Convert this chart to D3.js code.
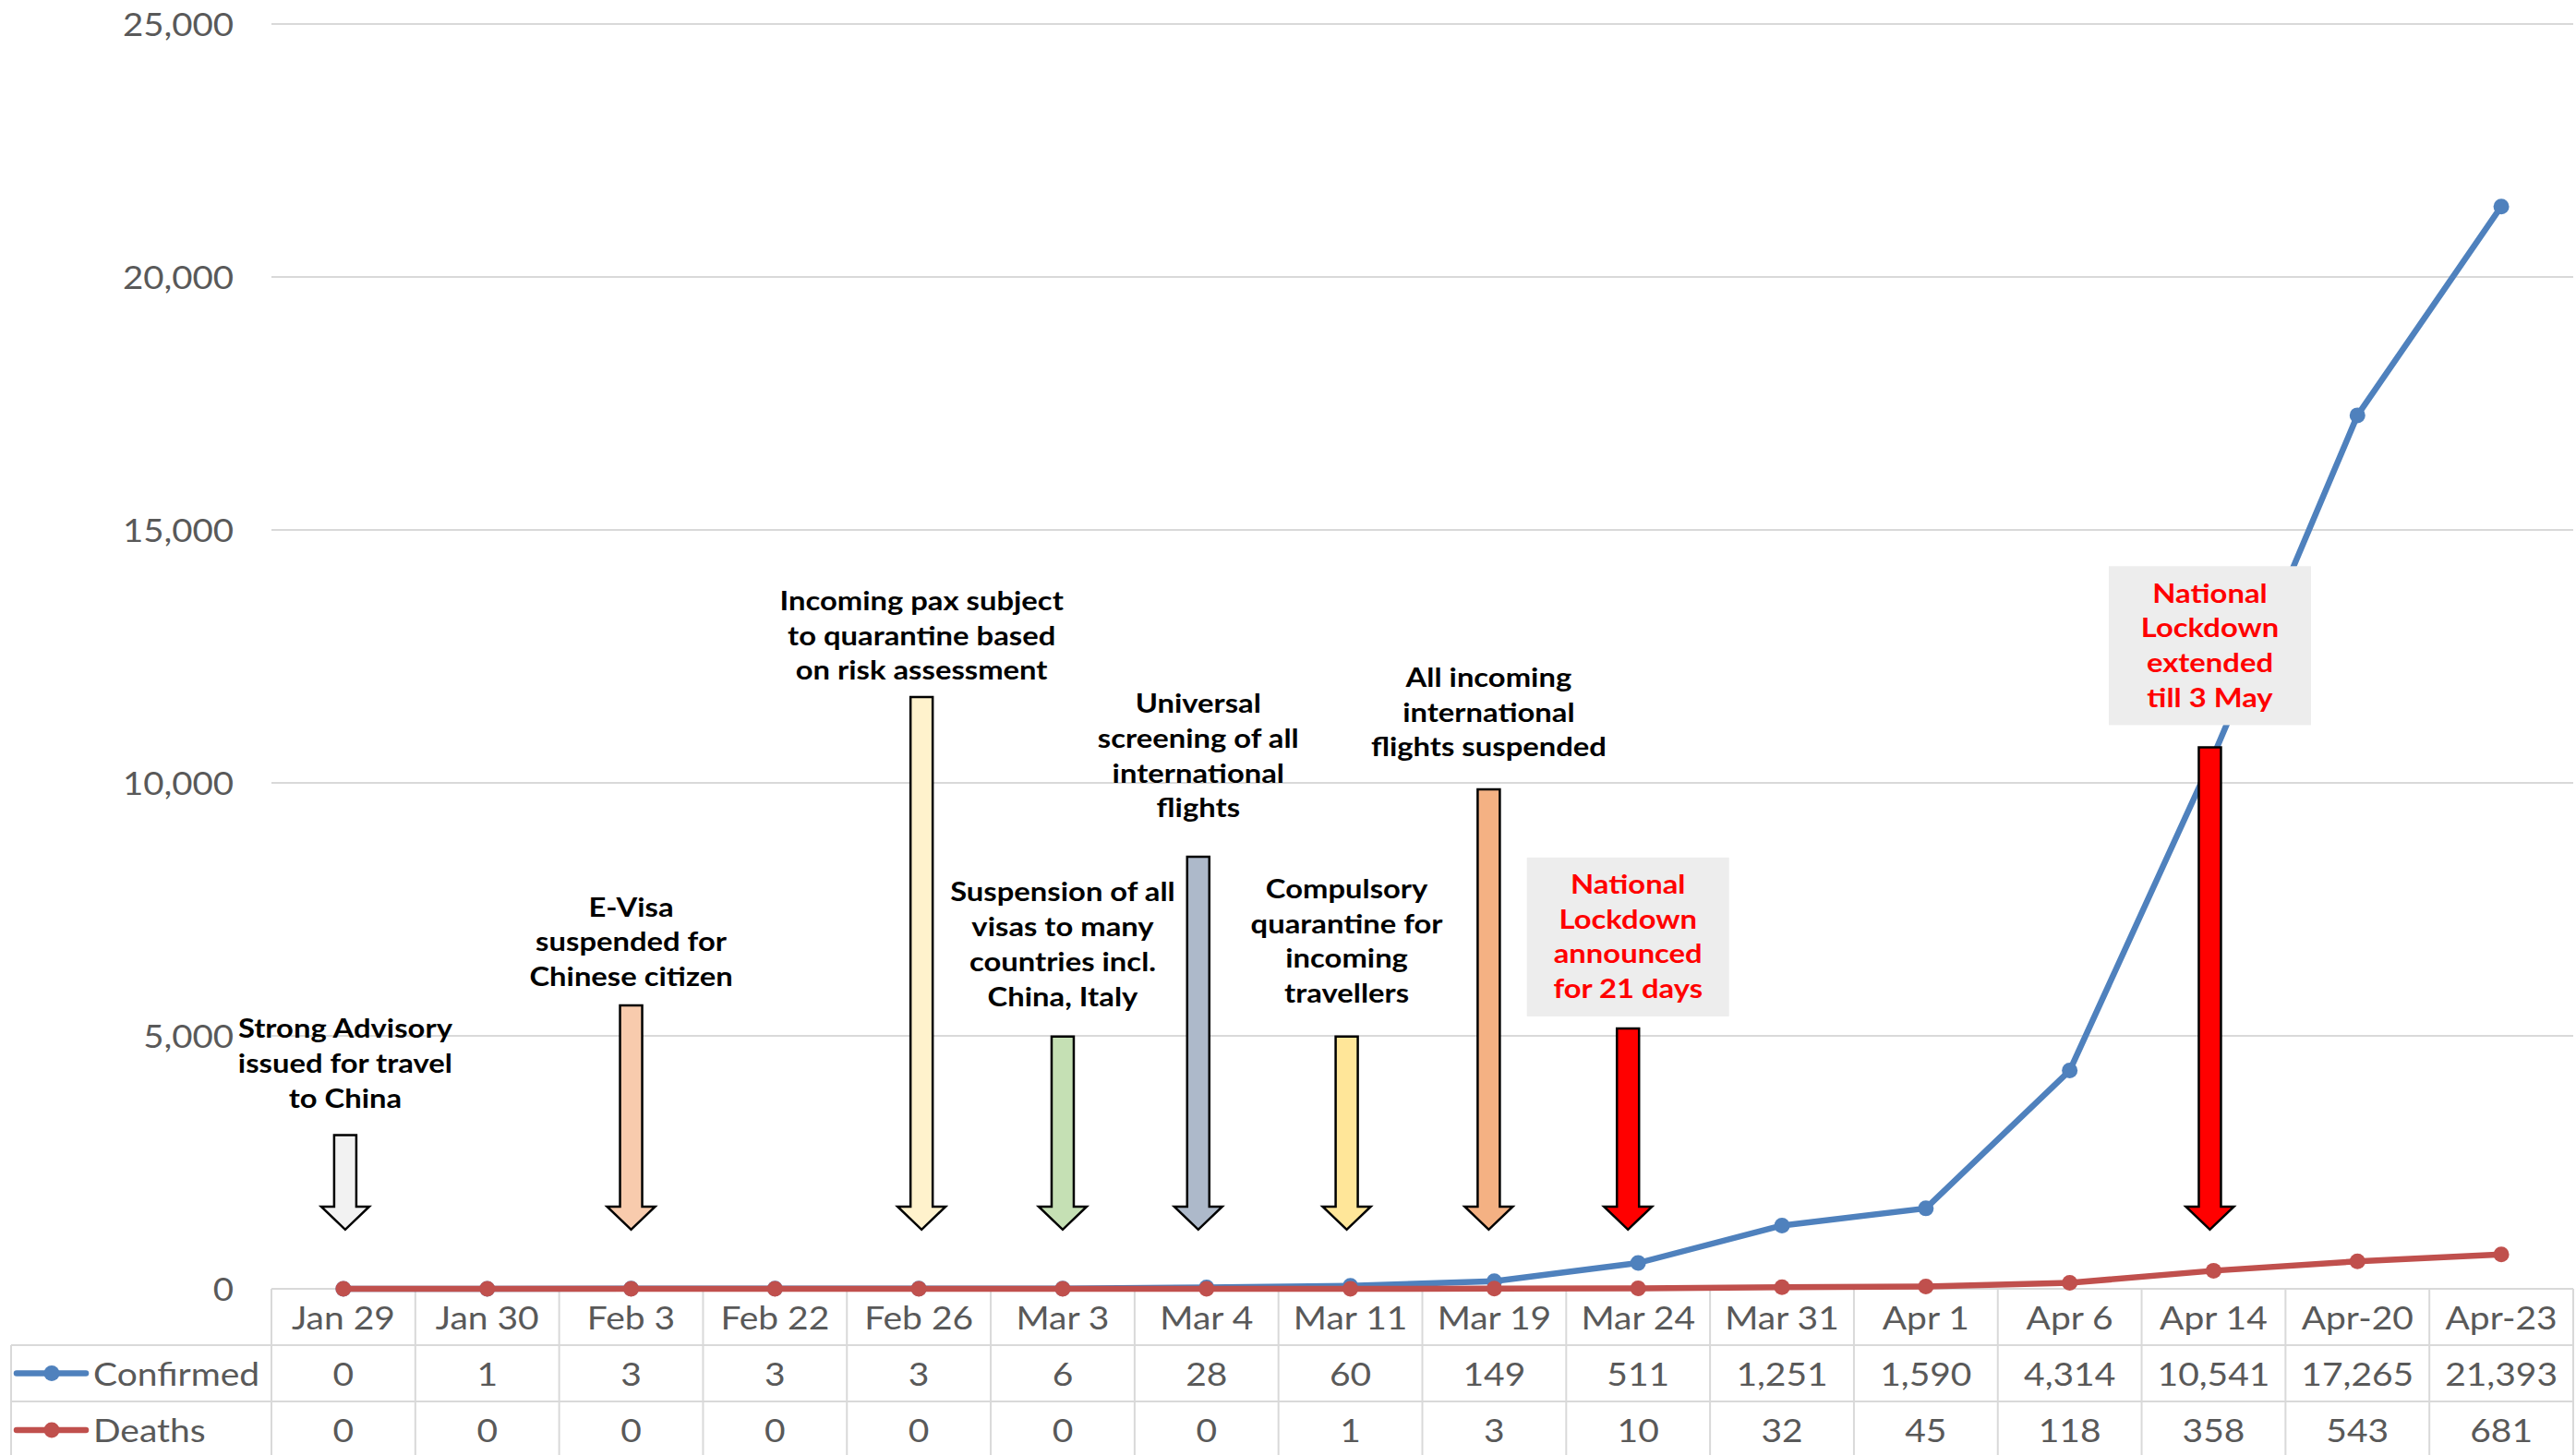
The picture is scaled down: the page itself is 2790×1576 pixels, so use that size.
<!DOCTYPE html>
<html>
<head>
<meta charset="utf-8">
<script src="https://cdn.jsdelivr.net/npm/d3@7"></script>
<style>
  html, body { margin: 0; padding: 0; background: #ffffff; }
  svg { display: block; }
</style>
</head>
<body>
<svg id="chart" width="2790" height="1576"></svg>
<script>
// ---- Data -------------------------------------------------------------
const categories = ["Jan 29", "Jan 30", "Feb 3", "Feb 22", "Feb 26", "Mar 3", "Mar 4", "Mar 11",
                    "Mar 19", "Mar 24", "Mar 31", "Apr 1", "Apr 6", "Apr 14", "Apr-20", "Apr-23"];
const confirmed = [0, 1, 3, 3, 3, 6, 28, 60, 149, 511, 1251, 1590, 4314, 10541, 17265, 21393];
const deaths    = [0, 0, 0, 0, 0, 0, 0, 1, 3, 10, 32, 45, 118, 358, 543, 681];
const yTicks    = [0, 5000, 10000, 15000, 20000, 25000];
const seriesNames = ["Confirmed", "Deaths"];

// Policy events marked with block arrows above the timeline
const eventDates = ["Jan 29", "Feb 3", "Feb 26", "Mar 3", "Mar 4", "Mar 11", "Mar 19", "Mar 24", "Apr 14"];
const eventLabels = [
  ["Strong Advisory", "issued for travel", "to China"],
  ["E-Visa", "suspended for", "Chinese citizen"],
  ["Incoming pax subject", "to quarantine based", "on risk assessment"],
  ["Suspension of all", "visas to many", "countries incl.", "China, Italy"],
  ["Universal", "screening of all", "international", "flights"],
  ["Compulsory", "quarantine for", "incoming", "travellers"],
  ["All incoming", "international", "flights suspended"],
  ["National", "Lockdown", "announced", "for 21 days"],
  ["National", "Lockdown", "extended", "till 3 May"]
];
// arrow tail level and last label line level, in case-count units
const eventArrowTop = [3038, 5604, 11697, 4987, 8540, 4987, 9872, 5146, 10701];
const eventLabelAt  = [3785, 6188, 12240, 5797, 9525, 5863, 10730, 5950, 11708];
const eventArrowTip = 1170;

// ---- Styling ------------------------------------------------------------
const eventFills = ["#f2f2f2", "#f8cbad", "#fff2cc", "#c5e0b4", "#adb9ca", "#ffe699", "#f4b183", "#ff0000", "#ff0000"];
const eventBoxed = [false, false, false, false, false, false, false, true, true];
const eventNudge = [2, 0, 3, 0, -9, -4, -6, -11, -4];   // small horizontal offsets in px
const seriesColors = ["#4f81bd", "#c0504d"];
const gridColor = "#d9d9d9";
const textColor = "#595959";
const FONT = "Lato, 'Open Sans', sans-serif";
const SX = 1.13;              // horizontal text stretch

// ---- Layout -------------------------------------------------------------
const W = 2790, H = 1576;
const plotLeft = 294, plotRight = 2787;
const yZero = 1396, yTopPx = 26;
const tableLeft = 12;
const rowEdges = [1396, 1457, 1518, 1580];

const svg = d3.select("#chart");
svg.append("rect").attr("width", W).attr("height", H).attr("fill", "#ffffff");

const x = d3.scaleBand().domain(categories).range([plotLeft, plotRight]).padding(0);
const y = d3.scaleLinear().domain([0, 25000]).range([yZero, yTopPx]);
const cx = d => x(d) + x.bandwidth() / 2;

// text helper: positioned with a transform so it can be stretched horizontally
function addText(g, tx, ty, str, opts) {
  return g.append("text")
    .attr("transform", `translate(${tx},${ty}) scale(${SX},1)`)
    .attr("text-anchor", opts.anchor || "middle")
    .attr("dominant-baseline", "central")
    .attr("font-family", FONT)
    .attr("font-size", opts.size)
    .attr("font-weight", opts.weight || "normal")
    .attr("fill", opts.fill || textColor)
    .text(str);
}

// ---- Gridlines and value axis --------------------------------------------
const grid = svg.append("g");
grid.selectAll("line").data(yTicks.filter(t => t > 0)).join("line")
  .attr("x1", plotLeft).attr("x2", plotRight)
  .attr("y1", d => y(d)).attr("y2", d => y(d))
  .attr("stroke", gridColor).attr("stroke-width", 2);

const yAxisG = svg.append("g");
const fmt = d3.format(",");
yTicks.forEach(t => addText(yAxisG, 253, y(t), fmt(t), { anchor: "end", size: 34 }));

// ---- Data table under the plot --------------------------------------------
const table = svg.append("g").attr("stroke", gridColor).attr("stroke-width", 2);
table.append("line").attr("x1", plotLeft).attr("x2", plotRight)
  .attr("y1", rowEdges[0]).attr("y2", rowEdges[0]);
[rowEdges[1], rowEdges[2]].forEach(r =>
  table.append("line").attr("x1", tableLeft).attr("x2", plotRight).attr("y1", r).attr("y2", r));
table.append("line").attr("x1", tableLeft).attr("x2", tableLeft)
  .attr("y1", rowEdges[1]).attr("y2", rowEdges[3]);
const colEdges = categories.map(c => x(c)).concat([plotRight]);
table.selectAll("line.col").data(colEdges).join("line").attr("class", "col")
  .attr("x1", d => d).attr("x2", d => d)
  .attr("y1", rowEdges[0]).attr("y2", rowEdges[3]);

const tableText = svg.append("g");
const rowMid = i => (rowEdges[i] + rowEdges[i + 1]) / 2;
categories.forEach(c => addText(tableText, cx(c), rowMid(0), c, { size: 34.5 }));
[confirmed, deaths].forEach((vals, si) => {
  vals.forEach((v, i) => addText(tableText, cx(categories[i]), rowMid(si + 1), fmt(v), { size: 34.5 }));
  // legend key
  const ky = rowMid(si + 1);
  tableText.append("line").attr("x1", 18).attr("x2", 93).attr("y1", ky).attr("y2", ky)
    .attr("stroke", seriesColors[si]).attr("stroke-width", 6.5).attr("stroke-linecap", "round");
  tableText.append("circle").attr("cx", 56).attr("cy", ky).attr("r", 8.5).attr("fill", seriesColors[si]);
  addText(tableText, 101, ky, seriesNames[si], { anchor: "start", size: 34.5 });
});

// ---- Series lines -----------------------------------------------------
const line = d3.line().x((d, i) => cx(categories[i])).y(d => y(d));
[confirmed, deaths].forEach((vals, si) => {
  const g = svg.append("g");
  g.append("path").datum(vals).attr("d", line)
    .attr("fill", "none").attr("stroke", seriesColors[si])
    .attr("stroke-width", 6.5).attr("stroke-linejoin", "round");
  g.selectAll("circle").data(vals).join("circle")
    .attr("cx", (d, i) => cx(categories[i])).attr("cy", d => y(d))
    .attr("r", 8.5).attr("fill", seriesColors[si]);
});

// ---- Event arrows and labels -----------------------------------------------
const LINE_H = 37.7;
const shaftHalf = 12, headHalf = 26, headH = 25;
function arrowPath(xc, top, tip) {
  const neck = tip - headH;
  return `M${xc - shaftHalf},${top}L${xc + shaftHalf},${top}L${xc + shaftHalf},${neck}` +
         `L${xc + headHalf},${neck}L${xc},${tip}L${xc - headHalf},${neck}L${xc - shaftHalf},${neck}Z`;
}

const events = svg.append("g");
eventDates.forEach((d, i) => {
  const xc = cx(d) + eventNudge[i];
  const lines = eventLabels[i];
  const lastY = y(eventLabelAt[i]);
  const firstY = lastY - (lines.length - 1) * LINE_H;
  if (eventBoxed[i]) {
    events.append("rect")
      .attr("x", xc - 109.5).attr("y", firstY - 28)
      .attr("width", 219).attr("height", lastY - firstY + 59)
      .attr("fill", "#ededed");
  }
  lines.forEach((t, k) => addText(events, xc, firstY + k * LINE_H, t, {
    size: 29, weight: "bold", fill: eventBoxed[i] ? "#ff0000" : "#000000"
  }));
  events.append("path")
    .attr("d", arrowPath(xc, y(eventArrowTop[i]), y(eventArrowTip)))
    .attr("fill", eventFills[i]).attr("stroke", "#000000")
    .attr("stroke-width", 2.5).attr("stroke-linejoin", "miter");
});
</script>
</body>
</html>
